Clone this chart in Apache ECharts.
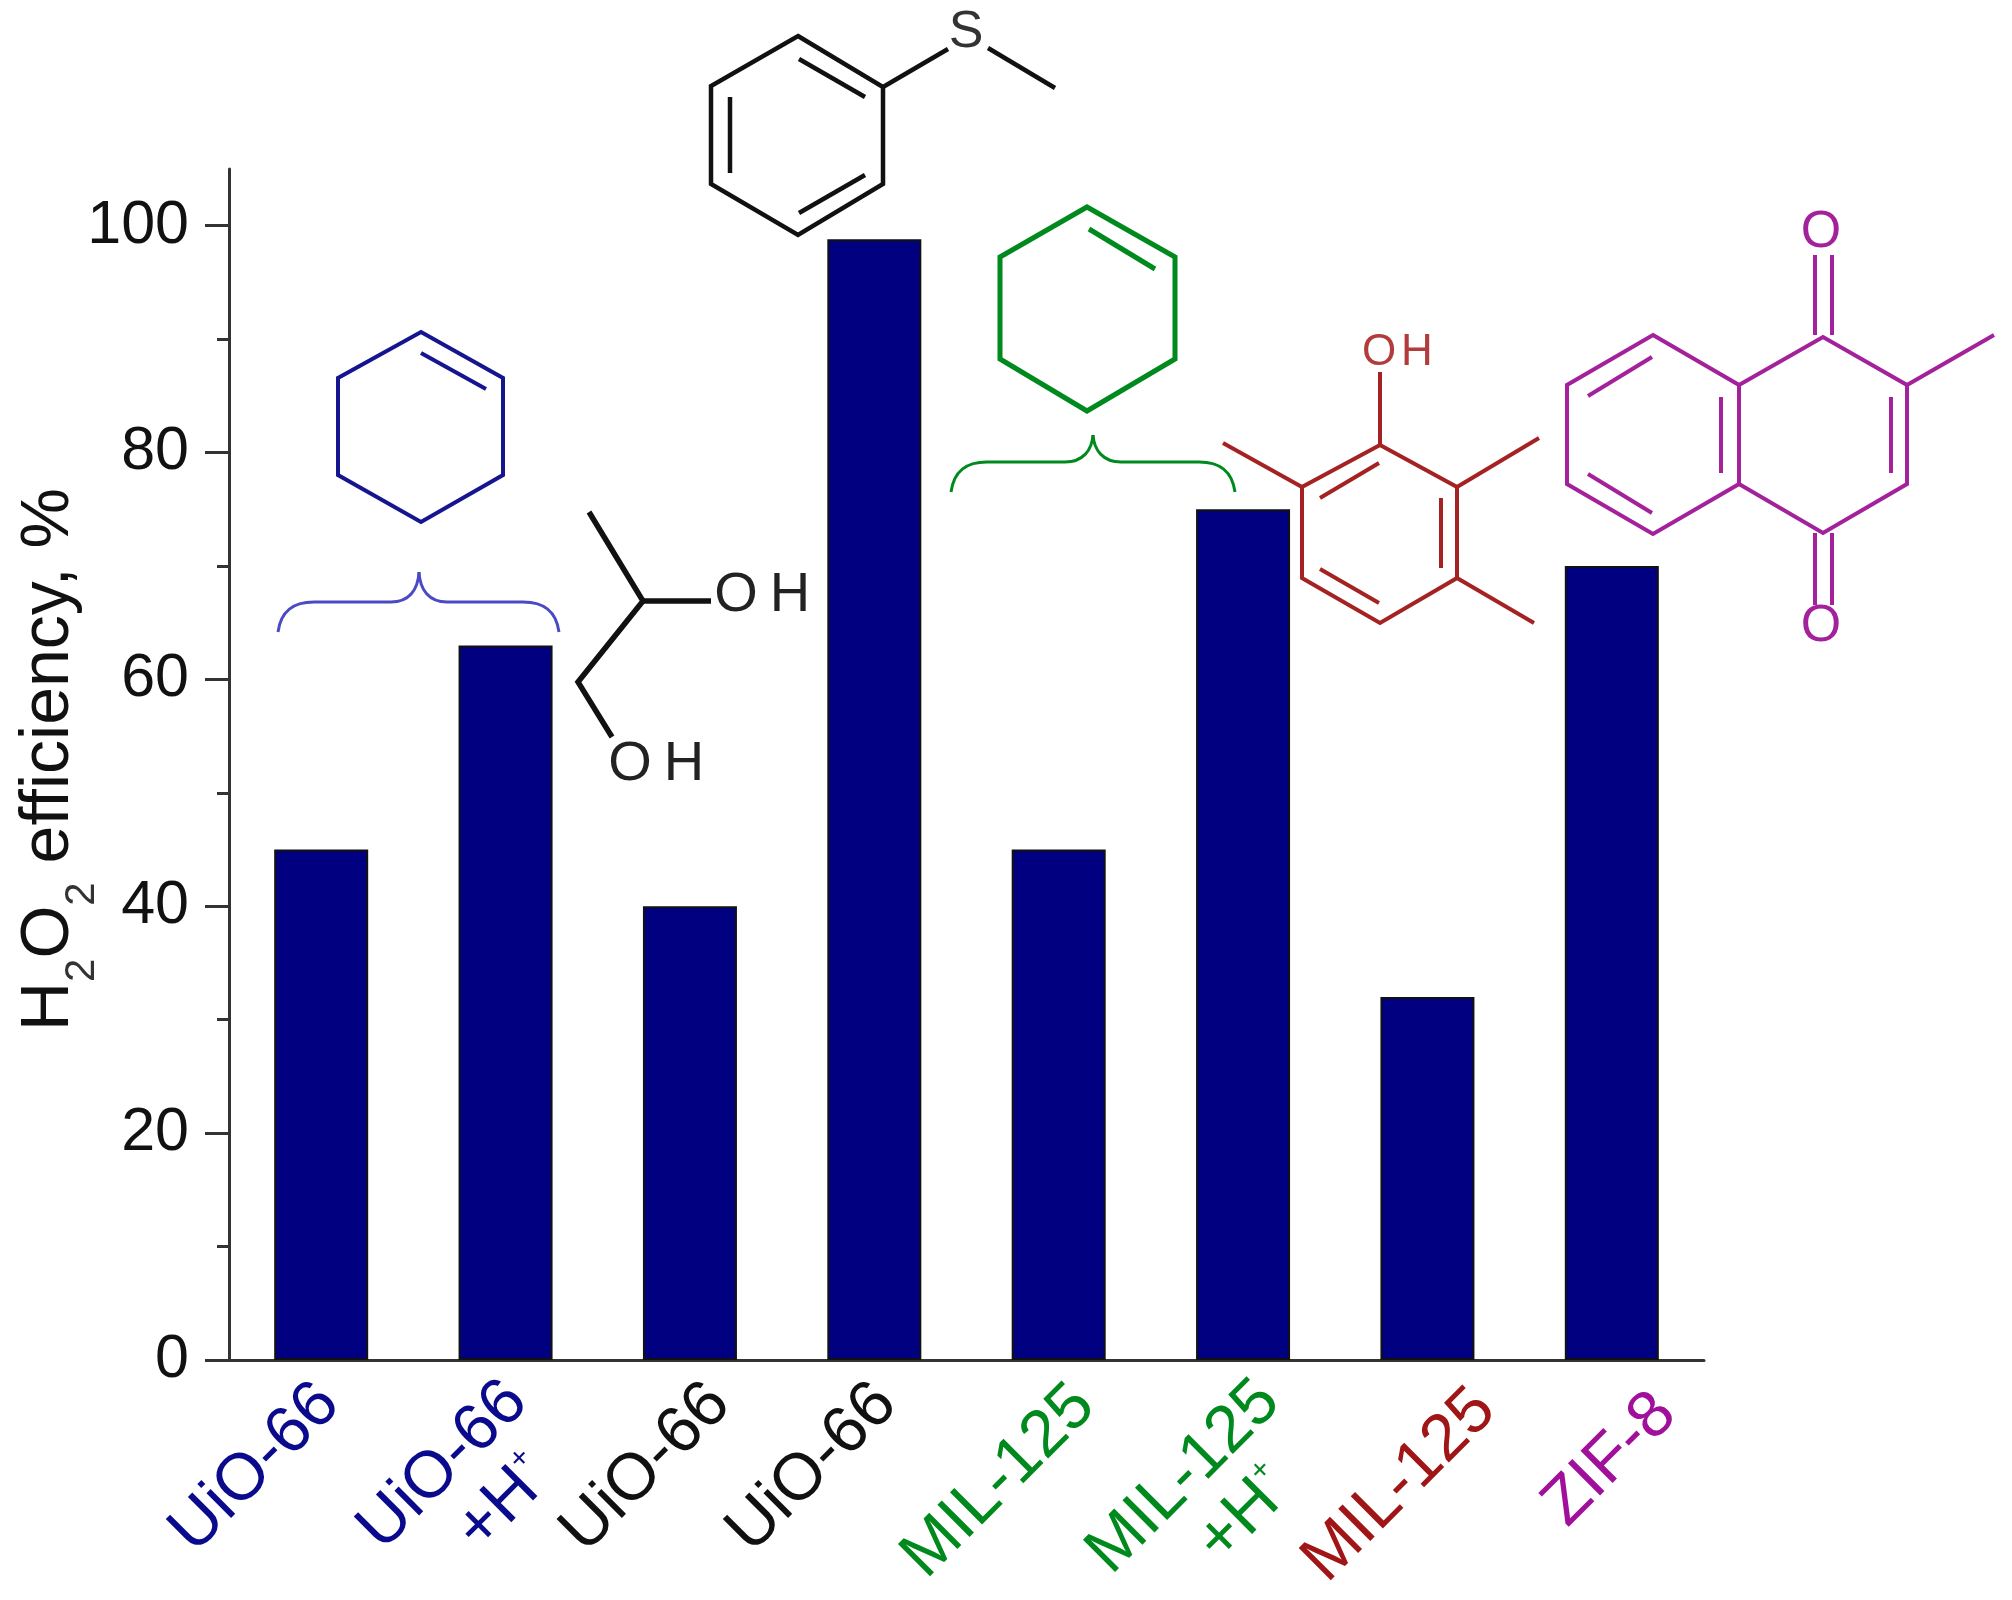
<!DOCTYPE html>
<html>
<head>
<meta charset="utf-8">
<style>
	html, body { margin: 0; padding: 0; background: #fff; }
	#myChart { width: 2012px; height: 1600px; }
</style>
<script src="https://cdn.jsdelivr.net/npm/echarts@6/dist/echarts.min.js"></script>
</head>
<body>
<div id="myChart"></div>
<script>
	var categories = ["UiO-66", "UiO-66 +H+", "UiO-66", "UiO-66", "MIL-125", "MIL-125 +H+", "MIL-125", "ZIF-8"];
	var efficiency = [45, 63, 40, 98.8, 45, 75, 32, 70];
	var yTicks = [0, 20, 40, 60, 80, 100];
	var yMinorTicks = [10, 30, 50, 70, 90];

	var FONT = '"Liberation Sans", Arial, sans-serif';
	var BLUE = "#15158f", BRACE_BLUE = "#4a4ac4", BLACK = "#111111", GREEN = "#008a1e",
		RED = "#a52222", PURPLE = "#a3229b";
	var labelColors = ["#0a0a8c", "#0a0a8c", "#111111", "#111111", "#008a1e", "#008a1e", "#a01616", "#a0109a"];
	// the hand placed labels of the original sit off their ticks, screen px [dx, dy]
	var labelNudge = [[8, -2], [13, -3], [30, -2], [12, -2], [26, 0], [28, -3], [58, 4], [54, 8]];

	// helpers for the molecule sketches drawn over the plot
	function ring(points, color, width) {
		return { type: "polygon", shape: { points: points }, style: { fill: null, stroke: color, lineWidth: width, lineJoin: "miter" } };
	}
	function bond(points, color, width) {
		return { type: "polyline", shape: { points: points }, style: { fill: null, stroke: color, lineWidth: width } };
	}
	function atom(text, x, y, size, color) {
		return {
			type: "text",
			style: { text: text, x: x, y: y, font: size + "px " + FONT, fill: color, textAlign: "center", textVerticalAlign: "middle" }
		};
	}
	function curve(x1, y1, cx1, cy1, cx2, cy2, x2, y2, color, width) {
		return {
			type: "bezierCurve",
			shape: { x1: x1, y1: y1, cpx1: cx1, cpy1: cy1, cpx2: cx2, cpy2: cy2, x2: x2, y2: y2 },
			style: { fill: null, stroke: color, lineWidth: width }
		};
	}
	function brace(xl, xm, xr, yEnd, yFlat, yTip, color, width) {
		return [
			curve(xl, yEnd, xl + 3, yFlat + 8, xl + 16, yFlat, xl + 36, yFlat, color, width),
			bond([[xl + 36, yFlat], [xm - 28, yFlat]], color, width),
			curve(xm - 28, yFlat, xm - 10, yFlat, xm - 1, yFlat - 12, xm, yTip, color, width),
			curve(xm, yTip, xm + 1, yFlat - 12, xm + 10, yFlat, xm + 28, yFlat, color, width),
			bond([[xm + 28, yFlat], [xr - 36, yFlat]], color, width),
			curve(xr - 36, yFlat, xr - 16, yFlat, xr - 3, yFlat + 8, xr, yEnd, color, width)
		];
	}

	var sketches = [].concat(
		// cyclohexene, blue
		ring([[421, 332], [503, 378], [503, 475], [421, 522], [338, 475], [338, 378]], BLUE, 4),
		bond([[421, 353], [486, 389]], BLUE, 4),
		brace(278, 419, 559, 632, 602, 572, BRACE_BLUE, 3),
		// cyclohexene, green
		ring([[1087, 207], [1175, 257], [1175, 359], [1087, 411], [1000, 359], [1000, 257]], GREEN, 5),
		bond([[1089, 229], [1155, 269]], GREEN, 5),
		brace(951, 1093, 1235, 492, 462, 435, GREEN, 3),
		// thioanisole
		ring([[798, 36], [883, 87], [883, 184], [798, 235], [711, 184], [711, 86]], BLACK, 4.5),
		bond([[799, 59], [865, 97]], BLACK, 4.5),
		bond([[730, 97], [730, 173]], BLACK, 4.5),
		bond([[865, 175], [799, 213]], BLACK, 4.5),
		bond([[883, 87], [948, 49]], BLACK, 4.5),
		bond([[988, 48], [1055, 88]], BLACK, 4.5),
		atom("S", 966, 33, 52, "#333333"),
		// propanediol
		bond([[589, 512], [643, 601], [578, 682], [612, 737]], BLACK, 5.5),
		bond([[643, 601], [711, 601]], BLACK, 5.5),
		atom("O", 736, 596, 56, "#222222"),
		atom("H", 790, 596, 56, "#222222"),
		atom("O", 630, 765, 56, "#222222"),
		atom("H", 684, 765, 56, "#222222"),
		// trimethylphenol
		ring([[1380, 445], [1457, 487], [1457, 578], [1380, 623], [1302, 578], [1302, 487]], RED, 4),
		bond([[1379, 463], [1320, 498]], RED, 4),
		bond([[1441, 498], [1441, 568]], RED, 4),
		bond([[1379, 603], [1320, 569]], RED, 4),
		bond([[1302, 487], [1223, 443]], RED, 4),
		bond([[1457, 487], [1539, 438]], RED, 4),
		bond([[1457, 578], [1534, 623]], RED, 4),
		bond([[1380, 445], [1380, 372]], RED, 4),
		atom("O", 1379, 353, 44, "#b23c3c"),
		atom("H", 1417, 353, 44, "#b23c3c"),
		// menadione
		ring([[1653, 335], [1739, 385], [1739, 484], [1653, 534], [1567, 484], [1567, 385]], PURPLE, 4),
		bond([[1739, 385], [1823, 337], [1907, 385], [1907, 484], [1823, 533], [1739, 484]], PURPLE, 4),
		bond([[1652, 357], [1588, 396]], PURPLE, 4),
		bond([[1588, 474], [1652, 513]], PURPLE, 4),
		bond([[1721, 397], [1721, 473]], PURPLE, 4),
		bond([[1891, 397], [1891, 473]], PURPLE, 4),
		bond([[1907, 385], [1994, 335]], PURPLE, 4),
		bond([[1815, 335], [1815, 255]], PURPLE, 4),
		bond([[1832, 335], [1832, 255]], PURPLE, 4),
		bond([[1815, 533], [1815, 605]], PURPLE, 4),
		bond([[1832, 533], [1832, 605]], PURPLE, 4),
		atom("O", 1821, 233, 52, PURPLE),
		atom("O", 1821, 627, 52, PURPLE)
	);

	var chart = echarts.init(document.getElementById("myChart"));

	chart.setOption({
		animation: false,
		backgroundColor: "#ffffff",
		textStyle: { fontFamily: FONT },
		grid: { left: 229, top: 169, width: 1475, height: 1191, outerBoundsMode: "none" },
		xAxis: [
			{
				type: "category",
				data: categories.map(function(name, i) {
					// move along and across the 45 degree text with its padding
					var along = (labelNudge[i][0] - labelNudge[i][1]) * 0.707;
					var across = (labelNudge[i][0] + labelNudge[i][1]) * 0.707;
					// two line labels: keep the first line where a one line label would be
					var top = 2 * across + (name.indexOf("+H+") > 0 ? 66 : 0);
					return {
						value: name,
						textStyle: { color: labelColors[i], padding: [top, -along, 0, 0] }
					};
				}),
				axisLine: { lineStyle: { color: "#333333", width: 3 } },
				axisTick: { show: false },
				axisLabel: {
					interval: 0,
					rotate: 45,
					margin: 36,
					fontSize: 66,
					fontFamily: FONT,
					formatter: function(value) {
						var pos = value.indexOf(" +H+");
						if (pos < 0) return value;
						return "{main|" + value.slice(0, pos) + "}\n{plus|+H}{sup|+}";
					},
					rich: {
						main: { fontSize: 66, lineHeight: 70, align: "right", fontFamily: FONT },
						plus: { fontSize: 66, lineHeight: 70, align: "center", padding: [0, 0, 0, 32], fontFamily: FONT },
						sup: { fontSize: 30, lineHeight: 30, align: "center", verticalAlign: "top", fontFamily: FONT }
					}
				}
			}
		],
		yAxis: [
			{
				type: "value",
				min: 0,
				max: 105,
				interval: 20,
				name: "{b|H}{s|2}{b|O}{s|2}{b| efficiency, %}",
				nameLocation: "middle",
				nameRotate: 90,
				nameGap: 126,
				nameMoveOverlap: false,
				nameTextStyle: {
					padding: [0, 0, 0, 10],
					rich: {
						b: { fontSize: 68, lineHeight: 108, color: "#111111", fontFamily: FONT },
						s: { fontSize: 42, lineHeight: 42, color: "#333333", verticalAlign: "bottom", fontFamily: FONT }
					}
				},
				splitLine: { show: false },
				axisLine: { show: true, lineStyle: { color: "#333333", width: 3 } },
				axisTick: { show: true, customValues: yTicks, length: 24, lineStyle: { color: "#333333", width: 3 } },
				axisLabel: { customValues: yTicks, margin: 40, fontSize: 61, color: "#111111", fontFamily: FONT }
			},
			{
				// minor ticks only
				type: "value",
				min: 0,
				max: 105,
				position: "left",
				splitLine: { show: false },
				axisLine: { show: false },
				axisLabel: { show: false },
				axisTick: { show: true, customValues: yMinorTicks, length: 12, lineStyle: { color: "#333333", width: 3 } }
			}
		],
		series: [
			{
				type: "bar",
				data: efficiency,
				barWidth: 94,
				itemStyle: { color: "#000080", borderColor: "#111111", borderWidth: 2 }
			}
		],
		graphic: { elements: sketches }
	});
</script>
</body>
</html>
